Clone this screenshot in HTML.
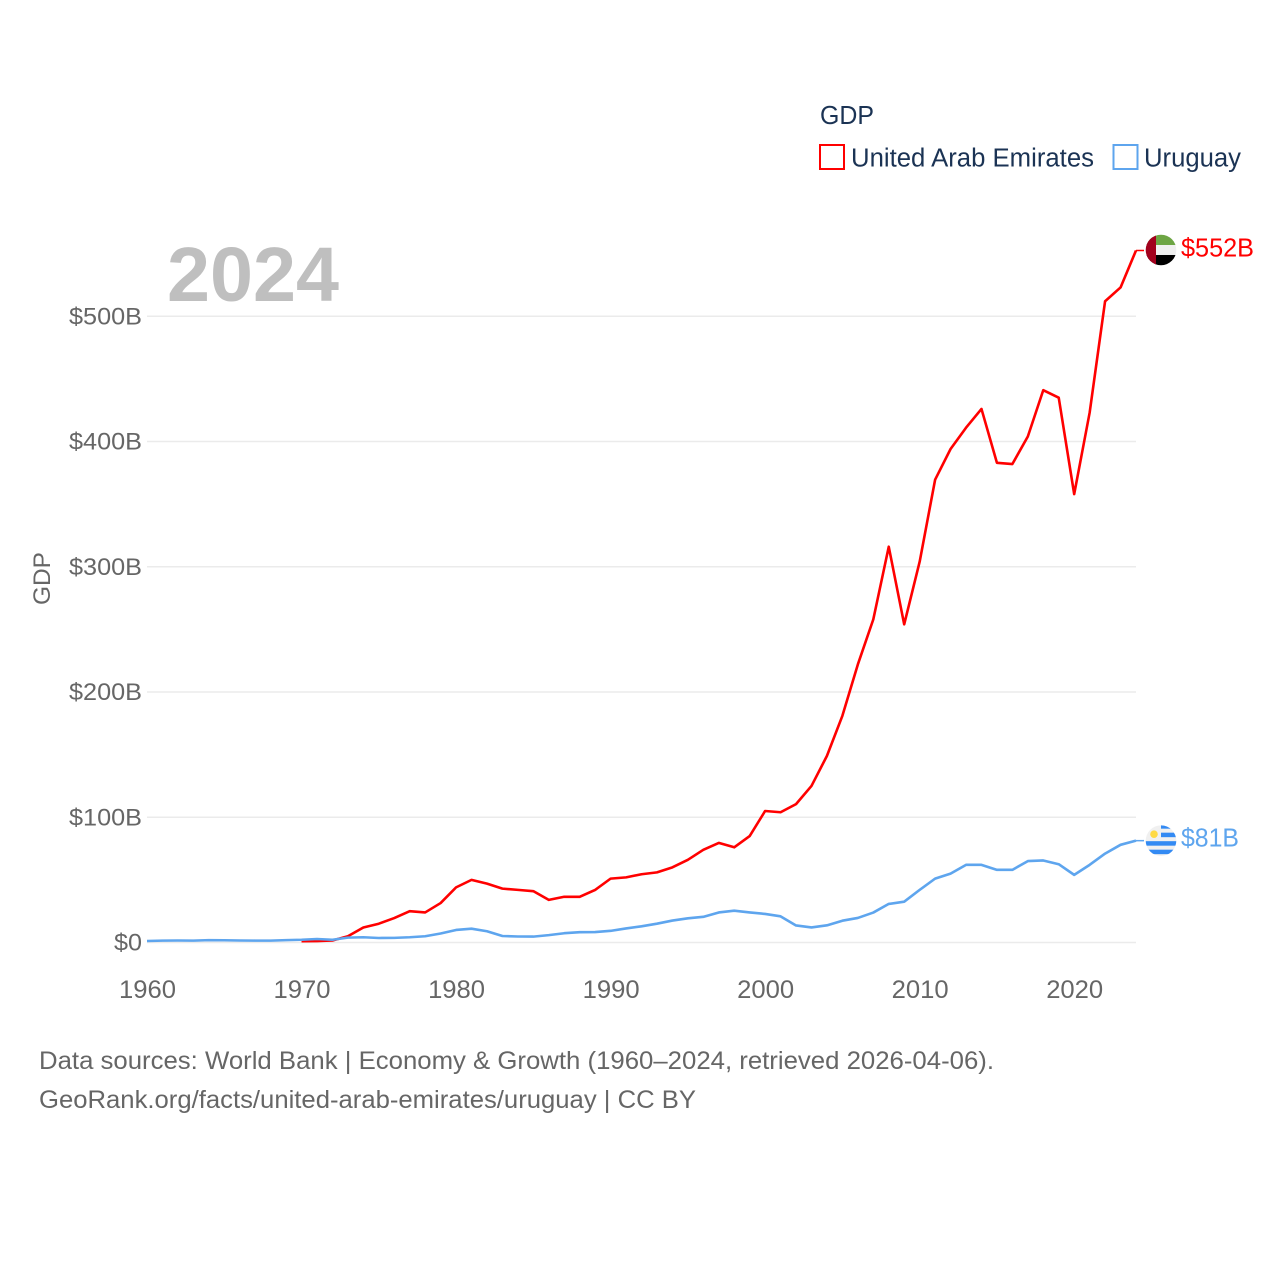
<!DOCTYPE html>
<html lang="en">
<head>
<meta charset="utf-8">
<title>GDP: United Arab Emirates and Uruguay</title>
<style>
html,body{margin:0;padding:0;background:#fff;width:1280px;height:1280px;overflow:hidden}
svg{display:block}
text{font-family:"Liberation Sans",sans-serif}
</style>
</head>
<body>
<svg id="chart" width="1280" height="1280" viewBox="0 0 1280 1280" xmlns="http://www.w3.org/2000/svg">
  <defs>
    <clipPath id="flag-clip"><circle cx="0" cy="0" r="15.300"></circle></clipPath>
  </defs>
  <rect width="1280" height="1280" fill="#fff"></rect>

  <g>
    <text x="820" y="124" font-size="25.500" fill="#1b3354" textLength="54" lengthAdjust="spacingAndGlyphs">GDP</text>
    <g>
      <rect x="820" y="145" width="24" height="24" fill="none" stroke="#ff0000" stroke-width="2"></rect>
      <text x="851" y="166.500" font-size="25.500" fill="#1b3354" textLength="243" lengthAdjust="spacingAndGlyphs">United Arab Emirates</text>
    </g>
    <g>
      <rect x="1113.500" y="145" width="24" height="24" fill="none" stroke="#5ea5ee" stroke-width="2"></rect>
      <text x="1144" y="166.500" font-size="25.500" fill="#1b3354" textLength="97" lengthAdjust="spacingAndGlyphs">Uruguay</text>
    </g>
  </g>

  <text x="167" y="301" font-size="77" font-weight="700" fill="#bfbfbf" textLength="172" lengthAdjust="spacingAndGlyphs">2024</text>
  <text transform="translate(50 605) rotate(-90)" font-size="24" fill="#666666" textLength="53" lengthAdjust="spacingAndGlyphs">GDP</text>

  <g id="grid"></g>
  <g id="y-axis"></g>
  <g id="x-axis"></g>
  <g id="series"></g>

  <g id="flag-uae">
    <g clip-path="url(#flag-clip)">
      <rect x="-16" y="-16" width="32" height="11" fill="#6da544"></rect>
      <rect x="-16" y="-5" width="32" height="10" fill="#f0f0f0"></rect>
      <rect x="-16" y="5" width="32" height="11" fill="#000000"></rect>
      <rect x="-16" y="-16" width="11" height="32" fill="#a2001d"></rect>
    </g>
  </g>
  <g id="flag-uruguay">
    <g clip-path="url(#flag-clip)">
      <rect x="-16" y="-16" width="32" height="32" fill="#f0f0f0"></rect>
      <rect x="0" y="-16" width="16" height="4" fill="#338af3"></rect>
      <rect x="0" y="-8" width="16" height="4.500" fill="#338af3"></rect>
      <rect x="-16" y="0.500" width="32" height="4.500" fill="#338af3"></rect>
      <rect x="-16" y="9" width="32" height="4.500" fill="#338af3"></rect>
      <circle cx="-7" cy="-6.500" r="3.800" fill="#ffda44"></circle>
    </g>
  </g>
  <g id="end-labels"></g>

  <g>
    <text x="39" y="1069" font-size="25" fill="#666666" textLength="955" lengthAdjust="spacingAndGlyphs">Data sources: World Bank | Economy &amp; Growth (1960–2024, retrieved 2026-04-06).</text>
    <text x="39" y="1108" font-size="25" fill="#666666" textLength="657" lengthAdjust="spacingAndGlyphs">GeoRank.org/facts/united-arab-emirates/uruguay | CC BY</text>
  </g>
</svg>

<script>
const years = [1960,1961,1962,1963,1964,1965,1966,1967,1968,1969,1970,1971,1972,1973,1974,1975,1976,1977,1978,1979,1980,1981,1982,1983,1984,1985,1986,1987,1988,1989,1990,1991,1992,1993,1994,1995,1996,1997,1998,1999,2000,2001,2002,2003,2004,2005,2006,2007,2008,2009,2010,2011,2012,2013,2014,2015,2016,2017,2018,2019,2020,2021,2022,2023,2024];
const uaeGdp = [null,null,null,null,null,null,null,null,null,null,1,1.1,1.6,5,12,15,19.5,25,24,31.5,44,50,47,43,42,41,34,36.5,36.5,42,51,52,54.5,56,60,66,74,79.5,76,85,105,104,110.5,125,149,181,222,258,316,254,304,369.5,394,411,426,383,382,404,441,435,358,423,512,523,552.5];
const uruguayGdp = [1.2,1.5,1.6,1.5,1.9,1.8,1.6,1.5,1.5,1.9,2.2,2.8,2.2,3.9,4.2,3.6,3.7,4.2,5,7.2,10,11,9,5.2,4.8,4.7,5.9,7.4,8.2,8.3,9.3,11.2,12.9,15,17.5,19.3,20.5,24,25.4,24,22.8,20.9,13.6,12,13.7,17.4,19.6,23.9,30.8,32.6,42,51,55,62,62,58,58,65,65.5,62.5,54,62,71,78,81.3];
const yTickValues = [0,100,200,300,400,500];
const yTickLabels = ["$0","$100B","$200B","$300B","$400B","$500B"];
const xTickValues = [1960,1970,1980,1990,2000,2010,2020];
const xTickLabels = ["1960","1970","1980","1990","2000","2010","2020"];
const uaeEndLabel = "$552B";
const uruguayEndLabel = "$81B";

const NS = "http://www.w3.org/2000/svg";
const xScale = function (year) { return 147 + (year - 1960) * (1136 - 147) / 64; };
const yScale = function (value) { return 942.5 - value * 1.2525; };
const UAE_COLOR = "#ff0000";
const URUGUAY_COLOR = "#5ea5ee";

function make(tag, parentId, props) {
  const el = document.createElementNS(NS, tag);
  Object.keys(props).forEach(function (k) { el.setAttribute(k, props[k]); });
  document.getElementById(parentId).appendChild(el);
  return el;
}
function linePath(values) {
  let d = "";
  values.forEach(function (v, i) {
    if (v === null) return;
    d += (d ? "L" : "M") + xScale(years[i]).toFixed(2) + " " + yScale(v).toFixed(2);
  });
  return d;
}

yTickValues.forEach(function (v, i) {
  const grid = make("line", "grid", {x1: 147, x2: 1136, y1: yScale(v), y2: yScale(v), stroke: "#ebebeb", "stroke-width": 1.5});
  
  
  const label = make("text", "y-axis", {x: 142, y: yScale(v) + 8, "text-anchor": "end", "font-size": 24.5, fill: "#666666", textLength: i === 0 ? 28 : 73, lengthAdjust: "spacingAndGlyphs"});
  label.textContent = yTickLabels[i];
  
  
});

xTickValues.forEach(function (v, i) {
  const label = make("text", "x-axis", {x: xScale(v) + 0.5, y: 998, "text-anchor": "middle", "font-size": 25, fill: "#666666", textLength: 57, lengthAdjust: "spacingAndGlyphs"});
  label.textContent = xTickLabels[i];
  
  
});

const uaeLine = make("path", "series", {d: linePath(uaeGdp), fill: "none", stroke: UAE_COLOR, "stroke-width": 2.6, "stroke-linejoin": "round"});



const uruguayLine = make("path", "series", {d: linePath(uruguayGdp), fill: "none", stroke: URUGUAY_COLOR, "stroke-width": 2.6, "stroke-linejoin": "round"});



const uaeLast = yScale(uaeGdp[uaeGdp.length - 1]);
const uruguayLast = yScale(uruguayGdp[uruguayGdp.length - 1]);

const uaeConnector = make("line", "series", {x1: 1136, x2: 1144, y1: uaeLast, y2: uaeLast, stroke: UAE_COLOR, "stroke-width": 1.5});



const uruguayConnector = make("line", "series", {x1: 1136, x2: 1144, y1: uruguayLast, y2: uruguayLast, stroke: URUGUAY_COLOR, "stroke-width": 1.5});



document.getElementById("flag-uae").setAttribute("transform", "translate(1161 " + (uaeLast - 0.5) + ")");
document.getElementById("flag-uruguay").setAttribute("transform", "translate(1161 " + uruguayLast + ")");

const uaeLabel = make("text", "end-labels", {x: 1181, y: uaeLast + 6, "font-size": 25.5, fill: UAE_COLOR, textLength: 73, lengthAdjust: "spacingAndGlyphs"});
uaeLabel.textContent = uaeEndLabel;



const uruguayLabel = make("text", "end-labels", {x: 1181, y: uruguayLast + 6, "font-size": 25.5, fill: URUGUAY_COLOR, textLength: 58, lengthAdjust: "spacingAndGlyphs"});
uruguayLabel.textContent = uruguayEndLabel;


</script>
</body>
</html>
